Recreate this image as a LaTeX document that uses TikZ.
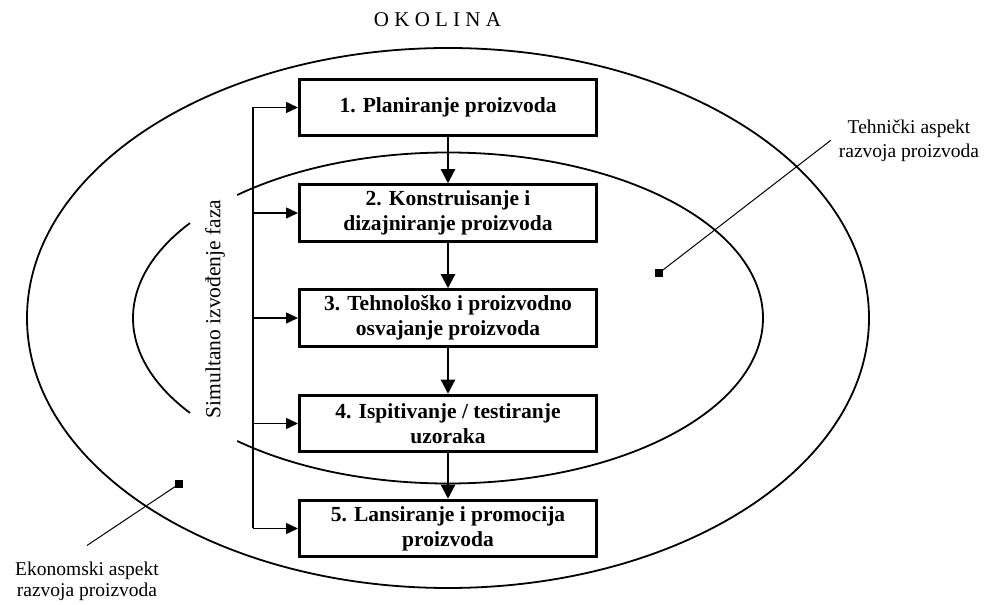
\documentclass[tikz,border=0pt]{standalone}
\usepackage{fontspec}
\setmainfont{Liberation Serif}
\usetikzlibrary{arrows.meta}
\begin{document}
\begin{tikzpicture}[x=1pt,y=1pt,
  stage/.style={draw, line width=3pt, minimum width=297pt, minimum height=56.5pt,
    align=center, font=\fontsize{21.5}{25}\selectfont\bfseries, inner sep=0pt},
  flow/.style={line width=2.3pt, -{Triangle[width=14pt,length=14pt]}},
  branch/.style={line width=1.5pt, -{Triangle[width=11pt,length=12pt]}},
  spine/.style={line width=1.5pt},
  ring/.style={line width=1.8pt},
  leader/.style={line width=1pt},
  marker/.style={fill=black, minimum size=8pt, inner sep=0pt},
  caption/.style={font=\fontsize{19.5}{24}\selectfont, align=center, inner sep=0pt}
]
\useasboundingbox (0,0) rectangle (994,605);

% environment title
\node[font=\fontsize{21}{25}\selectfont, anchor=base] (env) at (437.5,578) {O K O L I N A};

% economic (outer) and technical (inner) aspect rings
\coordinate (ctr) at (448,287);
\draw[ring] (ctr) ellipse [x radius=421pt, y radius=270pt];
\draw[ring] (ctr) ++(228:315pt and 165.5pt)
  arc[start angle=228, end angle=492, x radius=315pt, y radius=165.5pt];
\draw[ring] (ctr) ++(145:315pt and 165.5pt)
  arc[start angle=145, end angle=215, x radius=315pt, y radius=165.5pt];

% development phases
\node[stage] (b1) at (448,497.5) {1. Planiranje proizvoda};
\node[stage] (b2) at (448,392) {2. Konstruisanje i\\dizajniranje proizvoda};
\node[stage] (b3) at (448,287) {3. Tehnološko i proizvodno\\osvajanje proizvoda};
\node[stage] (b4) at (448,181.5) {4. Ispitivanje / testiranje\\uzoraka};
\node[stage] (b5) at (448,76.5) {5. Lansiranje i promocija\\proizvoda};

\draw[flow] (b1) -- (b2);
\draw[flow] (b2) -- (b3);
\draw[flow] (b3) -- (b4);
\draw[flow] (b4) -- (b5);

% simultaneous execution bracket
\coordinate (sp) at (253,0);
\draw[spine] (sp |- b1.west) -- (sp |- b5.west);
\foreach \b in {b1,b2,b3,b4,b5}
  \draw[branch] (sp |- \b.west) -- (\b.west);
\node[rotate=90, font=\fontsize{21.5}{25}\selectfont, inner sep=0pt] (sim) at (215,296)
  {Simultano izvođenje faza};

% aspect labels with leaders
\node[marker] (tsq) at (659,332) {};
\node[caption, inner xsep=8pt] (tlab) at (909,464.6) {Tehnički aspekt\\razvoja proizvoda};
\draw[leader] (tsq.center) -- (tlab.west);

\node[marker] (esq) at (179,121) {};
\node[caption, font=\fontsize{19.5}{21}\selectfont, inner ysep=16pt] (elab) at (87,24)
  {Ekonomski aspekt\\razvoja proizvoda};
\draw[leader] (esq.center) -- (elab.north);
\end{tikzpicture}
\end{document}
